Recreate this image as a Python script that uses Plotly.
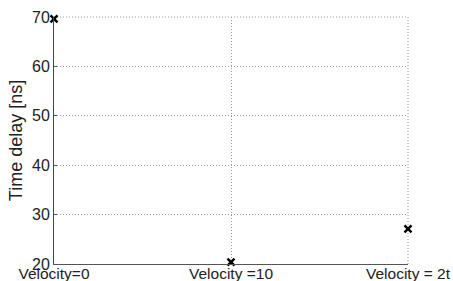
import plotly.graph_objects as go

categories = ["Velocity=0", "Velocity =10", "Velocity = 2t"]
x_pos = [0, 1, 2]
delays = [69.6, 20.4, 27.1]
y_ticks = [20, 30, 40, 50, 60, 70]

grid_color = "#9a9a9a"
grid_dash = "1px,2px"

fig = go.Figure()
fig.add_trace(go.Scatter(
    x=x_pos, y=delays, mode="markers",
    marker=dict(symbol="x-thin", size=7, color="black", line=dict(width=2.5, color="black")),
    cliponaxis=False, showlegend=False,
))

# dotted grid lines on the top and right edges (MATLAB-style box grid)
fig.add_shape(type="line", xref="x domain", yref="y domain", x0=0, x1=1, y0=1, y1=1,
              line=dict(color=grid_color, width=1, dash=grid_dash), layer="below")
fig.add_shape(type="line", xref="x domain", yref="y domain", x0=1, x1=1, y0=0, y1=1,
              line=dict(color=grid_color, width=1, dash=grid_dash), layer="below")

fig.update_layout(
    width=453, height=281,
    margin=dict(l=54, r=45, t=17, b=17),
    paper_bgcolor="white", plot_bgcolor="white",
    font=dict(family="Liberation Sans, Arial", size=16, color="#222"),
    xaxis=dict(
        range=[0, 2], tickvals=x_pos, ticktext=categories,
        showgrid=True, gridcolor=grid_color, griddash=grid_dash, gridwidth=1,
        showline=True, linecolor="#555", linewidth=1,
        ticks="", zeroline=False, tickfont=dict(size=15.5),
        ticklabelstandoff=-5, automargin=False,
    ),
    yaxis=dict(
        range=[20, 70], tickvals=y_ticks,
        showgrid=True, gridcolor=grid_color, griddash=grid_dash, gridwidth=1,
        showline=True, linecolor="#444", linewidth=1,
        ticks="inside", ticklen=3, tickcolor="#555", zeroline=False,
        tickfont=dict(size=16), automargin=False,
        title=dict(text="Time delay [ns]", font=dict(size=18), standoff=4),
    ),
)

fig.write_html(
    "out.html",
    config={"displayModeBar": False},
    post_script="document.body.style.margin='0';document.body.style.overflow='hidden';",
)
